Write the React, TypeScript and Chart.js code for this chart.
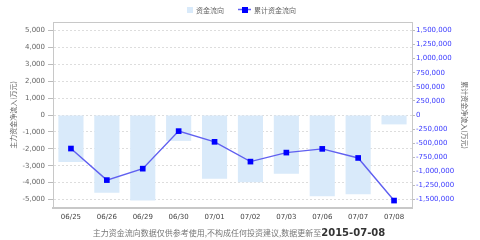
import React, { useEffect, useRef } from "react";
import { Chart, registerables } from "chart.js";

Chart.register(...registerables);

const categories = ["06/25", "06/26", "06/29", "06/30", "07/01", "07/02", "07/03", "07/06", "07/07", "07/08"];
const dailyFlow = [-2780, -4600, -5050, -1530, -3770, -3970, -3470, -4800, -4680, -555];
const cumulativeFlow = [-595000, -1155000, -952000, -286000, -476000, -827000, -667000, -601000, -762000, -1518000];
const leftTicks = [-5000, -4000, -3000, -2000, -1000, 0, 1000, 2000, 3000, 4000, 5000];
const rightTicks = [-1500000, -1250000, -1000000, -750000, -500000, -250000, 0, 250000, 500000, 750000, 1000000, 1250000, 1500000];
const legendLabels = ["资金流向", "累计资金流向"];
const leftTitle = "主力资金净流入(万元)";
const rightTitle = "累计资金净流入(万元)";
const footerText = "主力资金流向数据仅供参考使用,不构成任何投资建议,数据更新至";
const footerDate = "2015-07-08";

const BAR_COLOR = "rgb(217,234,250)";
const LINE_COLOR = "rgb(96,96,240)";
const POINT_COLOR = "#0000ff";
const CJK = '"Noto Sans CJK SC", "DejaVu Sans", sans-serif';

const decorPlugin = {
  id: "decor",
  afterDraw(chart: any) {
    const { ctx, chartArea } = chart;
    ctx.save();
    ctx.strokeStyle = "#c8c8c8";
    ctx.lineWidth = 1;
    ctx.beginPath();
    ctx.moveTo(chartArea.left, chartArea.top + 0.5);
    ctx.lineTo(chartArea.right, chartArea.top + 0.5);
    ctx.stroke();

    // legend
    ctx.font = `7px ${CJK}`;
    ctx.textBaseline = "middle";
    ctx.fillStyle = BAR_COLOR;
    ctx.fillRect(187, 7, 6, 6);
    ctx.fillStyle = "#666";
    ctx.textAlign = "left";
    ctx.fillText(legendLabels[0], 196, 10);
    ctx.strokeStyle = LINE_COLOR;
    ctx.lineWidth = 1.5;
    ctx.beginPath();
    ctx.moveTo(238, 9.5);
    ctx.lineTo(251, 9.5);
    ctx.stroke();
    ctx.fillStyle = POINT_COLOR;
    ctx.fillRect(242, 7, 6, 6);
    ctx.fillStyle = "#666";
    ctx.fillText(legendLabels[1], 254, 10);

    // footer
    ctx.font = `8px ${CJK}`;
    const w1 = ctx.measureText(footerText).width;
    ctx.font = `bold 10px "DejaVu Sans", sans-serif`;
    const w2 = ctx.measureText(footerDate).width;
    const startX = 239 - (w1 + w2) / 2;
    ctx.fillStyle = "#777";
    ctx.font = `8px ${CJK}`;
    ctx.fillText(footerText, startX, 233);
    ctx.fillStyle = "#333";
    ctx.font = `bold 10px "DejaVu Sans", sans-serif`;
    ctx.fillText(footerDate, startX + w1, 233);
    ctx.restore();
  },
};

export default function App() {
  const ref = useRef<HTMLCanvasElement | null>(null);

  useEffect(() => {
    if (!ref.current) return;
    const tickFont = { family: '"DejaVu Sans", sans-serif', size: 7 };
    const chart = new Chart(ref.current, {
      type: "bar",
      data: {
        labels: categories,
        datasets: [
          {
            type: "line",
            label: legendLabels[1],
            data: cumulativeFlow,
            yAxisID: "y2",
            borderColor: LINE_COLOR,
            borderWidth: 1.4,
            pointStyle: "rect",
            pointRadius: 4,
            pointBackgroundColor: POINT_COLOR,
            pointBorderColor: POINT_COLOR,
            pointBorderWidth: 0,
            tension: 0,
            order: 0,
          } as any,
          {
            type: "bar",
            label: legendLabels[0],
            data: dailyFlow,
            yAxisID: "y",
            backgroundColor: BAR_COLOR,
            borderWidth: 0,
            barPercentage: 0.7,
            categoryPercentage: 1,
            order: 1,
          },
        ],
      },
      options: {
        animation: false,
        responsive: false,
        layout: { padding: { top: 22, left: 0, right: 0, bottom: 0 } },
        plugins: { legend: { display: false }, tooltip: { enabled: false } },
        scales: {
          x: {
            grid: { display: false, drawTicks: false },
            border: { display: true, color: "#c8c8c8", width: 2 },
            ticks: { font: tickFont, color: "#444", padding: 5, maxRotation: 0, autoSkip: false },
            afterFit: (s: any) => {
              s.height = 32;
            },
          },
          y: {
            position: "left",
            min: -5500,
            max: 5500,
            ticks: {
              font: tickFont,
              color: "#666",
              padding: 3,
              callback: (v: any) => Number(v).toLocaleString("en-US"),
            },
            afterBuildTicks: (s: any) => {
              s.ticks = leftTicks.map((v) => ({ value: v }));
            },
            grid: { color: "#ddd", tickColor: "#bbb", tickLength: 5 },
            border: { display: true, color: "#c8c8c8", width: 1, dash: [2, 2] },
            title: {
              display: true,
              text: leftTitle,
              font: { family: CJK, size: 7 },
              color: "#666",
              padding: { top: 9, bottom: 0 },
            },
            afterFit: (s: any) => {
              s.width = 53;
            },
          },
          y2: {
            position: "right",
            min: -1650000,
            max: 1650000,
            ticks: {
              font: tickFont,
              color: "#3a3aff",
              padding: 1,
              callback: (v: any) => Number(v).toLocaleString("en-US"),
            },
            afterBuildTicks: (s: any) => {
              s.ticks = rightTicks.map((v) => ({ value: v }));
            },
            grid: { drawOnChartArea: false, tickColor: "#bbb", tickLength: 3 },
            border: { display: true, color: "#c8c8c8", width: 1 },
            title: {
              display: true,
              text: rightTitle,
              font: { family: CJK, size: 7 },
              color: "#666",
              padding: { top: 11, bottom: 0 },
            },
            afterFit: (s: any) => {
              s.width = 68;
            },
          },
        },
      },
      plugins: [decorPlugin],
    });
    return () => chart.destroy();
  }, []);

  return (
    <div style={{ position: "absolute", left: 0, top: 0, width: 480, height: 240, background: "#fff" }}>
      <canvas ref={ref} width={480} height={240} style={{ display: "block" }} />
    </div>
  );
}
